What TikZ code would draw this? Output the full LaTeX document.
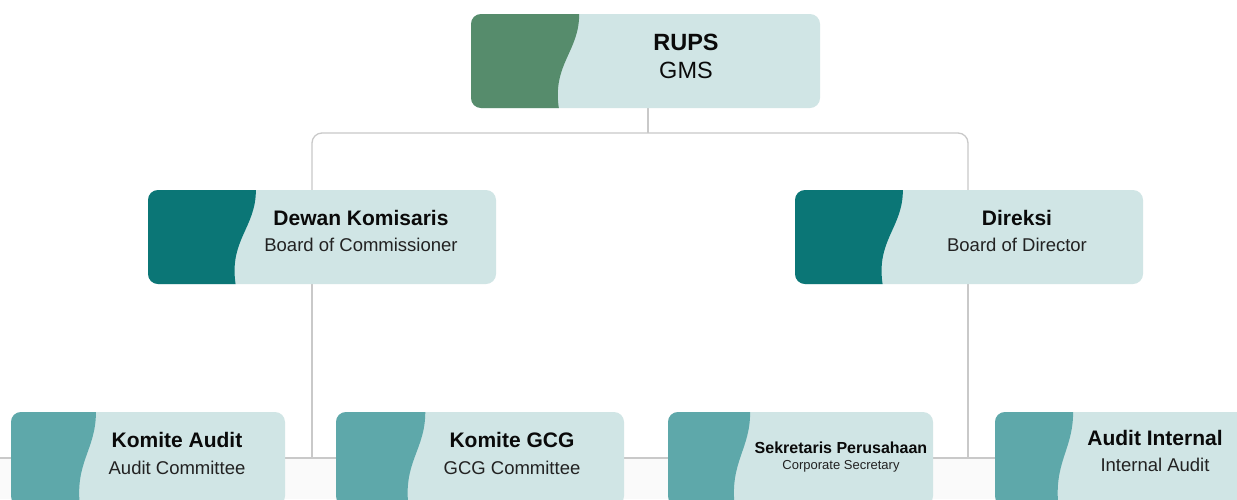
\documentclass[tikz,border=0pt]{standalone}
\usepackage{fontspec}
\setmainfont{Liberation Sans}
\definecolor{boxlight}{HTML}{D0E5E5}
\definecolor{rupsgreen}{HTML}{568C6C}
\definecolor{darkteal}{HTML}{0B7676}
\definecolor{midteal}{HTML}{5EA8AA}
\definecolor{connline}{HTML}{C9C9C9}
\definecolor{bandgray}{HTML}{FAFAFA}
\definecolor{txtdark}{HTML}{0A0A0A}
\newcommand\orgbox[5]{%
  \pgfmathsetmacro\obXa{#2}\pgfmathsetmacro\obYa{#3}\pgfmathsetmacro\obW{#4}%
  \pgfmathsetmacro\obXb{#2+#4}\pgfmathsetmacro\obYb{#3+94}%
  \node[boxshape, minimum width=#4pt, minimum height=94pt] (#1) at ({#2+#4/2},{#3+47}) {};
  \begin{scope}
    \clip[rounded corners=10pt] (\obXa,\obYa) rectangle (\obXb,\obYb);
    \fill[#5] (\obXa-1,\obYa-1) -- ({\obXa+0.31*\obW},\obYa-1) -- ({\obXa+0.31*\obW},\obYa)
      .. controls ({\obXa+0.31*\obW},{\obYa+38}) and ({\obXa+0.232*\obW},{\obYa+50}) ..
      ({\obXa+0.252*\obW},\obYb+1) -- (\obXa-1,\obYb+1) -- cycle;
  \end{scope}}
\begin{document}
\begin{tikzpicture}[x=1pt,y=-1pt,
  boxshape/.style={rectangle, rounded corners=10pt, fill=boxlight, inner sep=0pt},
  conn/.style={draw=connline, line width=1.3pt},
  ttlbig/.style={anchor=base, text=txtdark, font=\bfseries\fontsize{23.5}{28}\selectfont},
  subbig/.style={anchor=base, text=txtdark, font=\fontsize{23.5}{28}\selectfont},
  ttl/.style={anchor=base, text=txtdark, font=\bfseries\fontsize{21}{25}\selectfont},
  sub/.style={anchor=base, text=txtdark!90, font=\fontsize{18.5}{22}\selectfont},
  ttlsmall/.style={anchor=base, text=txtdark, font=\bfseries\fontsize{16}{19}\selectfont},
  subsmall/.style={anchor=base, text=txtdark!90, font=\fontsize{13}{16}\selectfont}]
\useasboundingbox (0,0) rectangle (1237,499);
\clip (0,0) rectangle (1237,499);
\fill[white] (0,0) rectangle (1237,499);
\fill[bandgray] (0,459) rectangle (1237,499);

% connectors
\coordinate (split) at (648,133);
\coordinate (busL) at (0,458);
\coordinate (busR) at (1237,458);
\coordinate (dkdrop) at (312,458);
\coordinate (drdrop) at (968,458);
\draw[conn] (busL) -- (busR);
\draw[conn] (648,108) -- (split);
\draw[conn, rounded corners=10pt] (312,190) -- (312,133) -- (968,133) -- (968,190);
\draw[conn] (312,284) -- (dkdrop);
\draw[conn] (968,284) -- (drdrop);

% boxes
\orgbox{rups}{471}{14}{349}{rupsgreen}
\orgbox{dk}{148}{190}{348}{darkteal}
\orgbox{dir}{795}{190}{348}{darkteal}
\orgbox{ka}{11}{412}{274}{midteal}
\orgbox{kg}{336}{412}{288}{midteal}
\orgbox{sp}{668}{412}{265}{midteal}
\orgbox{ai}{995}{412}{252}{midteal}

% texts
\node[ttlbig] (rups-t) at (686,50) {RUPS};
\node[subbig] (rups-s) at (686,78.5) {GMS};
\node[ttl] (dk-t) at (361,225.5) {Dewan Komisaris};
\node[sub] (dk-s) at (361,251.5) {Board of Commissioner};
\node[ttl] (dir-t) at (1017,225.5) {Direksi};
\node[sub] (dir-s) at (1017,251.5) {Board of Director};
\node[ttl] (ka-t) at (177,447.5) {Komite Audit};
\node[sub] (ka-s) at (177,474.5) {Audit Committee};
\node[ttl] (kg-t) at (512,447.5) {Komite GCG};
\node[sub] (kg-s) at (512,474.5) {GCG Committee};
\node[ttlsmall] (sp-t) at (841,453) {Sekretaris Perusahaan};
\node[subsmall] (sp-s) at (841,469) {Corporate Secretary};
\node[ttl] (ai-t) at (1155,445.5) {Audit Internal};
\node[sub] (ai-s) at (1155,471.5) {Internal Audit};
\end{tikzpicture}
\end{document}
